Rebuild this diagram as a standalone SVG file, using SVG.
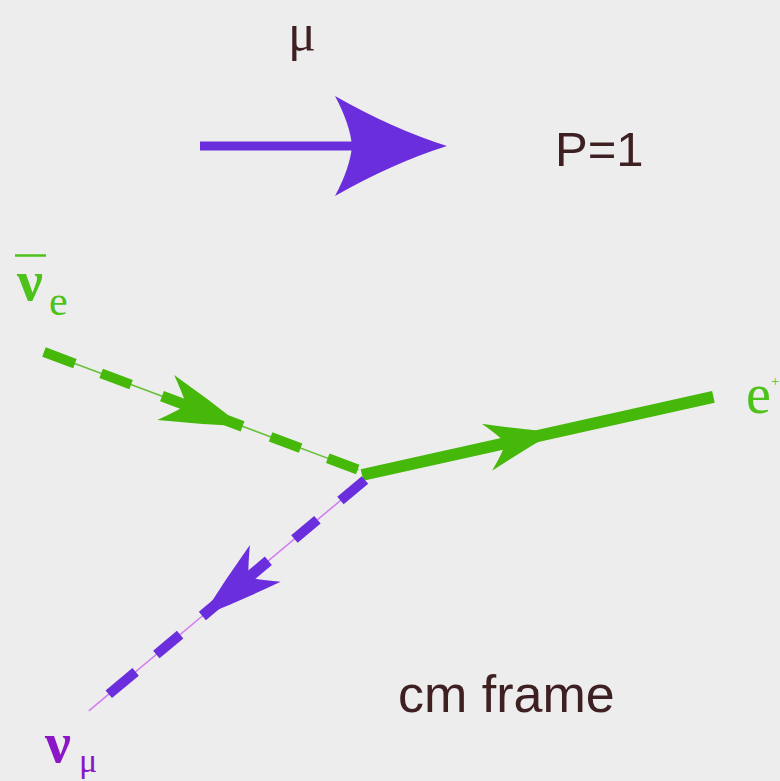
<svg xmlns="http://www.w3.org/2000/svg" width="780" height="781" viewBox="0 0 780 781">
<defs>
<style>
.serif{font-family:"Liberation Serif","DejaVu Serif",serif}
.sans{font-family:"Liberation Sans",Arial,sans-serif}
.dark{fill:#3e1f22}
.g{fill:#45b80a}
.p{fill:#6a2edc}
.gl{fill:#4dc21a}
.pl{fill:#8a16c8}
</style>
<path id="fletch" d="M212,0 Q172,-13 130,-24 Q144,-10 152,0 Q144,10 130,24 Q172,13 212,0 Z"/>
</defs>
<rect width="780" height="781" fill="#ededed"/>
<g id="connectors">
  <g id="muon-arrow">
    <rect x="200" y="141.5" width="155" height="9" class="p"/>
    <path d="M447,146 Q393,129 335,96 Q350,124 352,146 Q350,168 335,196 Q393,163 447,146 Z" class="p"/>
  </g>
  <g id="nu-e-line" transform="translate(44,352) rotate(20.53)">
    <line x1="0" y1="0" x2="336" y2="0" stroke="#66c038" stroke-width="1.5"/>
    <rect x="0" y="-5" width="33" height="10" class="g"/>
    <rect x="61" y="-5" width="32" height="10" class="g"/>
    <rect x="126" y="-5.5" width="86" height="11" class="g"/>
    <use href="#fletch" class="g"/>
    <rect x="242" y="-5" width="32" height="10" class="g"/>
    <rect x="303" y="-5" width="32" height="10" class="g"/>
  </g>
  <g id="positron-line" transform="translate(362,475) rotate(-12.53)">
    <rect x="0" y="-6" width="360" height="12" class="g"/>
    <path d="M198,0 Q165,-10 128,-24 Q142,-9 147,0 Q142,9 128,24 Q165,10 198,0 Z" class="g"/>
  </g>
  <g id="nu-mu-line" transform="translate(365,480) rotate(140.1)">
    <line x1="0" y1="0" x2="360" y2="0" stroke="#d27cf0" stroke-width="1.5"/>
    <rect x="0" y="-5" width="32" height="10" class="p"/>
    <rect x="62" y="-5" width="30" height="10" class="p"/>
    <rect x="126" y="-5.5" width="86" height="11" class="p"/>
    <use href="#fletch" class="p"/>
    <rect x="241" y="-5" width="31" height="10" class="p"/>
    <rect x="299" y="-5" width="35" height="10" class="p"/>
  </g>
</g>
<g id="muon">
  <text x="302" y="50" class="serif dark" font-size="52" text-anchor="middle">μ</text>
</g>
<g id="polarization">
  <text x="555" y="166" class="sans dark" font-size="49">P=1</text>
</g>
<g id="nu-e-bar">
  <line x1="15" y1="255.5" x2="46" y2="255.5" stroke="#4dc21a" stroke-width="2.5"/>
  <text x="17" y="300" class="serif gl" font-size="58" font-weight="bold">ν</text>
  <text x="49" y="315" class="serif gl" font-size="42">e</text>
</g>
<g id="positron">
  <text x="746" y="413" class="serif gl" font-size="56">e</text>
  <text x="771" y="386" class="serif gl" font-size="15">+</text>
</g>
<g id="nu-mu">
  <text x="45" y="762" class="serif pl" font-size="58" font-weight="bold">ν</text>
  <text x="79" y="772" class="serif pl" font-size="34">μ</text>
</g>
<g id="frame-label">
  <text x="398" y="712" class="sans dark" font-size="52">cm frame</text>
</g>
</svg>
